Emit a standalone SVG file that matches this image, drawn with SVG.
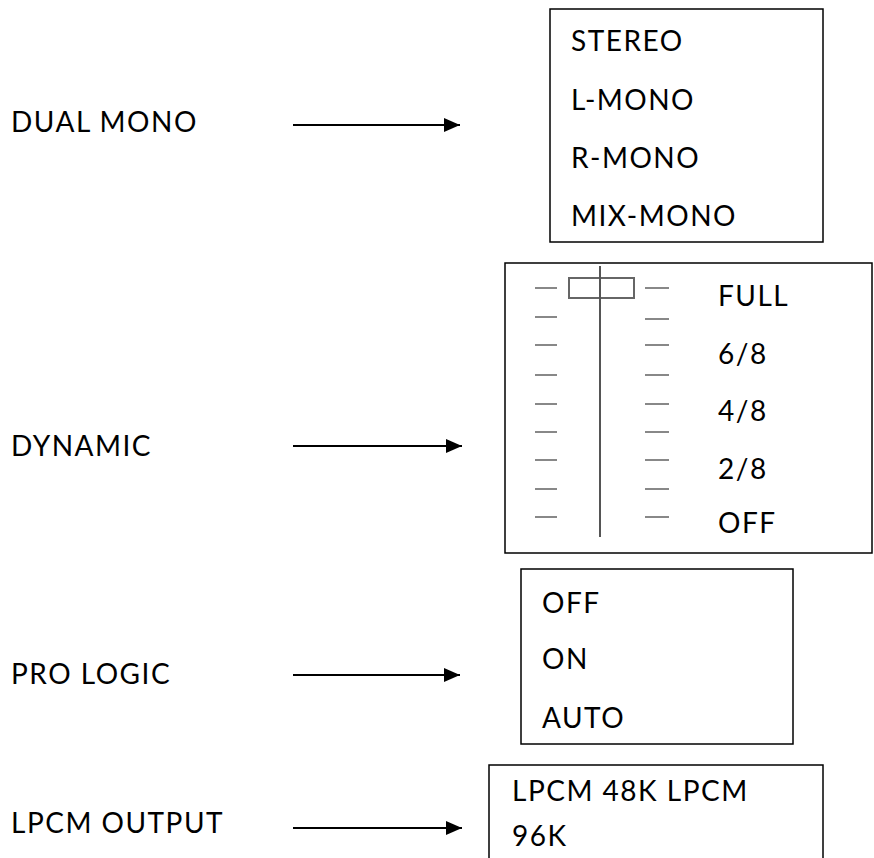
<svg xmlns="http://www.w3.org/2000/svg" width="874" height="858" viewBox="0 0 874 858">
<defs>
<style>
text{font-family:Lato,"Open Sans","Liberation Sans",sans-serif;font-size:28px;letter-spacing:1.5px;fill:#000}
.box{fill:#fff;stroke:#000;stroke-width:1.5}
.conn{stroke:#000;stroke-width:2;fill:none}
.tick{stroke:#888;stroke-width:2}
</style>
<marker id="ah" markerWidth="16" markerHeight="14" refX="16" refY="7" orient="auto" markerUnits="userSpaceOnUse">
<path d="M0,0 L16,7 L0,14 Z" fill="#000"/>
</marker>
</defs>
<rect width="874" height="858" fill="#fff"/>
<g id="label-dual-mono"><text x="11" y="132">DUAL MONO</text></g>
<g id="label-dynamic"><text x="11" y="456">DYNAMIC</text></g>
<g id="label-pro-logic"><text x="11" y="684">PRO LOGIC</text></g>
<g id="label-lpcm-output"><text x="11" y="833">LPCM OUTPUT</text></g>
<g id="connectors">
<line class="conn" x1="293" y1="125" x2="460" y2="125" marker-end="url(#ah)"/>
<line class="conn" x1="293" y1="446" x2="462" y2="446" marker-end="url(#ah)"/>
<line class="conn" x1="293" y1="675" x2="460" y2="675" marker-end="url(#ah)"/>
<line class="conn" x1="293" y1="828" x2="462" y2="828" marker-end="url(#ah)"/>
</g>
<g id="box-dual-mono">
<rect class="box" x="550" y="9" width="273" height="233"/>
<text x="571" y="51">STEREO</text>
<text x="571" y="110">L-MONO</text>
<text x="571" y="168">R-MONO</text>
<text x="571" y="226">MIX-MONO</text>
</g>
<g id="box-dynamic">
<rect class="box" x="505" y="263" width="367" height="290"/>
<g class="tick">
<line x1="535" y1="288" x2="557" y2="288"/><line x1="645" y1="288" x2="669" y2="288"/>
<line x1="535" y1="317" x2="557" y2="317"/><line x1="645" y1="319" x2="669" y2="319"/>
<line x1="535" y1="345" x2="557" y2="345"/><line x1="645" y1="345" x2="669" y2="345"/>
<line x1="535" y1="375" x2="557" y2="375"/><line x1="645" y1="375" x2="669" y2="375"/>
<line x1="535" y1="404" x2="557" y2="404"/><line x1="645" y1="404" x2="669" y2="404"/>
<line x1="535" y1="432" x2="557" y2="432"/><line x1="645" y1="432" x2="669" y2="432"/>
<line x1="535" y1="460" x2="557" y2="460"/><line x1="645" y1="460" x2="669" y2="460"/>
<line x1="535" y1="489" x2="557" y2="489"/><line x1="645" y1="489" x2="669" y2="489"/>
<line x1="535" y1="517" x2="557" y2="517"/><line x1="645" y1="517" x2="669" y2="517"/>
</g>
<rect x="569" y="278" width="65" height="20" fill="none" stroke="#666" stroke-width="2"/>
<line x1="600" y1="266" x2="600" y2="537" stroke="#555" stroke-width="2"/>
<text x="718" y="306">FULL</text>
<text x="718" y="364">6/8</text>
<text x="718" y="421">4/8</text>
<text x="718" y="479">2/8</text>
<text x="718" y="533">OFF</text>
</g>
<g id="box-pro-logic">
<rect class="box" x="521" y="569" width="272" height="175"/>
<text x="542" y="613">OFF</text>
<text x="542" y="669">ON</text>
<text x="542" y="728">AUTO</text>
</g>
<g id="box-lpcm-output">
<rect class="box" x="489" y="765" width="334" height="110"/>
<text x="512" y="801">LPCM 48K LPCM</text>
<text x="512" y="846">96K</text>
</g>
</svg>
